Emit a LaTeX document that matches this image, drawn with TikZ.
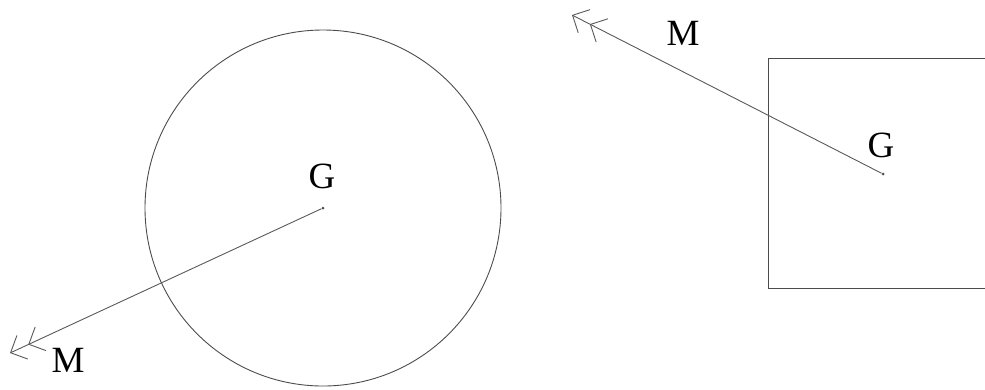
\documentclass[tikz,border=0pt]{standalone}
\usepackage{fontspec}
\setmainfont{Liberation Serif}
\usetikzlibrary{positioning,calc,arrows.meta}
\tikzset{BODY/.style={draw=black!70,line width=0.9pt}}
\tikzset{LABEL/.style={inner sep=0pt,font=\fontsize{37}{37}\selectfont}}
\tikzset{POINT/.style={circle,fill=black!70,inner sep=0pt,minimum size=3pt}}
\tikzset{MOMENT/.style={draw=black!65,line width=0.9pt,-{Straight Barb[length=13pt,width=26pt,sep=6pt]Straight Barb[length=13pt,width=26pt]}}}

\begin{document}
\begin{tikzpicture}[x=1pt,y=-1pt]

\path[use as bounding box,clip] (0,0) rectangle (985,389);

% round body
\coordinate (c_g_0) at (323,208);
\draw[BODY] (c_g_0) circle (178);
\node[POINT] (n_g_0) at (c_g_0) {};
\node[LABEL] (l_g_0) at ($(n_g_0)+(-1,-32)$) {G};

\coordinate (c_m_0) at (10,353);
\draw[MOMENT] (n_g_0) -- (c_m_0);
\node[LABEL] (l_m_0) at ($(c_m_0)+(58,7)$) {M};

% square body
\coordinate (c_g_1) at (883,174);
\draw[BODY] (768,58) rectangle ++(230,230);
\node[POINT] (n_g_1) at (c_g_1) {};
\node[LABEL] (l_g_1) at ($(n_g_1)+(-2,-29)$) {G};

\coordinate (c_m_1) at (572,15);
\draw[MOMENT] (n_g_1) -- (c_m_1);
\node[LABEL] (l_m_1) at ($(c_m_1)+(111,18)$) {M};

\end{tikzpicture}
\end{document}
